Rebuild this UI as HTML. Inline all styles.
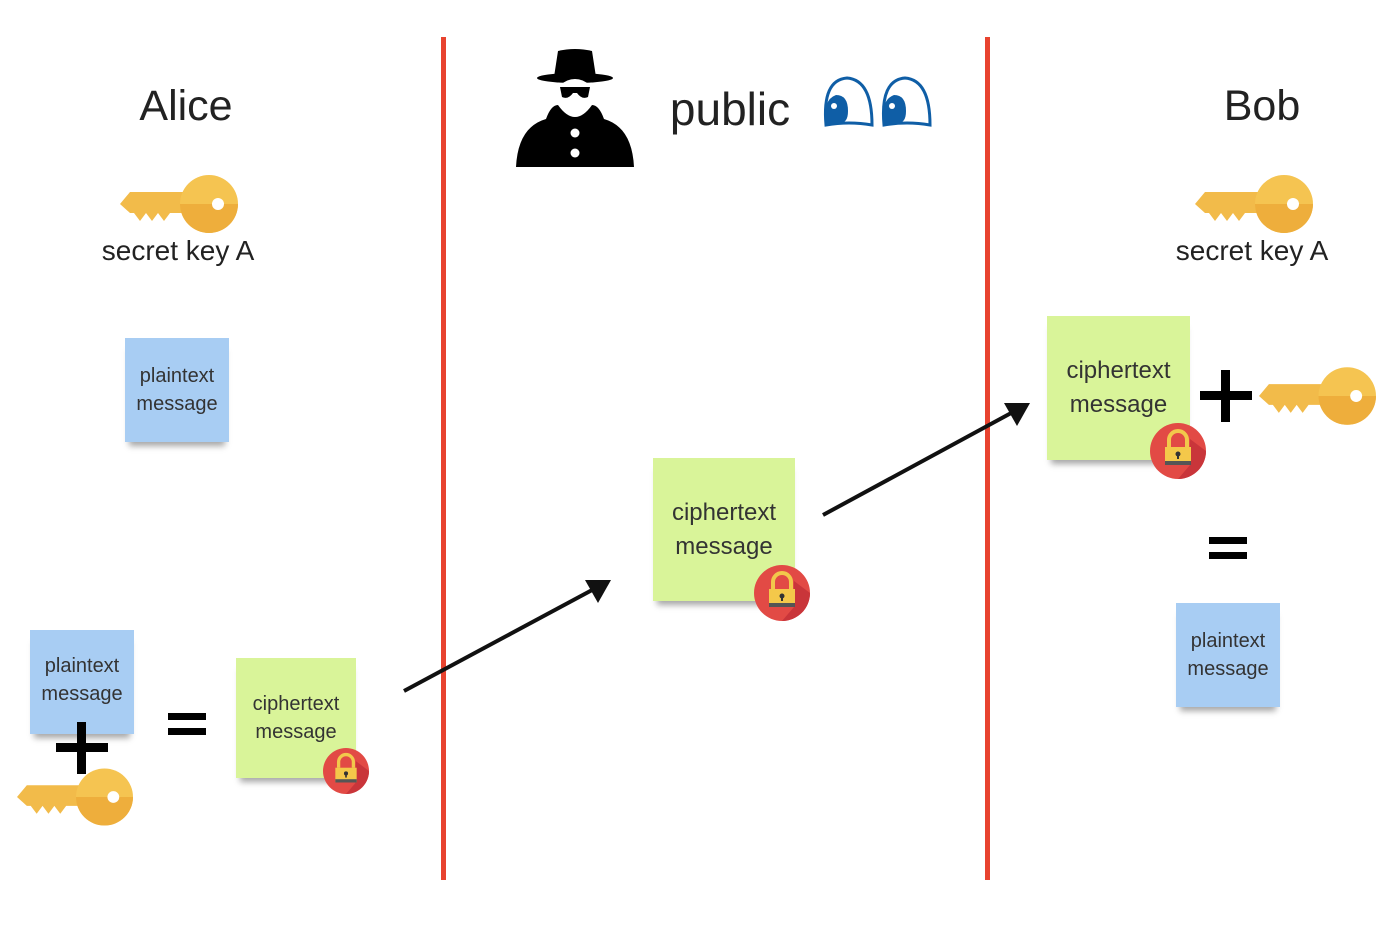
<!DOCTYPE html>
<html><head><meta charset="utf-8"><style>
body{margin:0;width:1400px;height:926px;background:#fff;position:relative;overflow:hidden;font-family:"Liberation Sans",sans-serif;color:#222}
.a{position:absolute}
.t{position:absolute;transform:translateX(-50%);white-space:nowrap}
.note{position:absolute;display:flex;align-items:center;justify-content:center;text-align:center;color:#333;box-shadow:0 8px 6px -4px rgba(0,0,0,.35)}
.blue{background:#a8cdf3;font-size:20px;line-height:28px}
.green{background:#d9f499;font-size:24px;line-height:34px}
</style></head><body>
<svg width="0" height="0" style="position:absolute">
<defs>
<symbol id="key" viewBox="0 0 118 58">
<path d="M0,29 L10,17 L66,17 L66,38 L50,38 L44,46 L38,38 L32,46 L26,38 L20,46 L14,38 L10,38 Z" fill="#f2bb4a"/>
<circle cx="89" cy="29" r="29" fill="#f5c451"/>
<path d="M60,29 A29,29 0 0 0 118,29 L118,29 Z" fill="#eeae3c"/>
<circle cx="98" cy="29" r="6" fill="#fff"/>
</symbol>
<symbol id="lock" viewBox="0 0 56 56">
<circle cx="28" cy="28" r="28" fill="#e24a45"/>
<path d="M28,56 A28,28 0 0 0 56,28 L40,16 L40,42 Z" fill="#c9353a"/>
<path d="M19,24 V17 A9,9 0 0 1 37,17 V24" fill="none" stroke="#f2c84b" stroke-width="4"/>
<rect x="15" y="24" width="26" height="18" fill="#f4c84a"/>
<rect x="15" y="38" width="26" height="4" fill="#555"/>
<circle cx="28" cy="31" r="2.5" fill="#333"/>
<rect x="27" y="31" width="2" height="5" fill="#333"/>
</symbol>
</defs></svg>

<div class="a" style="left:441px;top:37px;width:5px;height:843px;background:#e8432f"></div>
<div class="a" style="left:985px;top:37px;width:5px;height:843px;background:#e8432f"></div>

<div class="t" style="left:186px;top:82px;font-size:43px">Alice</div>
<div class="t" style="left:1262px;top:82px;font-size:43px">Bob</div>
<div class="t" style="left:730px;top:82px;font-size:46px">public</div>

<svg class="a" style="left:120px;top:175px" width="118" height="58"><use href="#key"/></svg>
<div class="t" style="left:178px;top:235px;font-size:28px">secret key A</div>
<svg class="a" style="left:1195px;top:175px" width="118" height="58"><use href="#key"/></svg>
<div class="t" style="left:1252px;top:235px;font-size:28px">secret key A</div>

<svg class="a" style="left:516px;top:47px" width="118" height="120" viewBox="0 0 118 120">
<path d="M38,30 L42,4 Q59,0 76,4 L80,30 Z" fill="#000"/>
<ellipse cx="59" cy="31" rx="38" ry="5" fill="#000"/>
<ellipse cx="59" cy="52" rx="20" ry="20" fill="#fff"/>
<path d="M44,40 H74 L72,50 Q66,53 61,46 H57 Q52,53 46,50 Z" fill="#000"/>
<path d="M0,120 Q2,80 30,72 Q35,58 42,58 Q59,82 76,58 Q83,58 88,72 Q116,80 118,120 Z" fill="#000"/>
<circle cx="59" cy="86" r="4.5" fill="#fff"/>
<circle cx="59" cy="106" r="4.5" fill="#fff"/>
</svg>
<svg class="a" style="left:822px;top:75px" width="112" height="55" viewBox="0 0 112 55">
<path d="M4,50 Q0,5 25,3 Q50,5 50,50 Q27,46 4,50 Z" fill="#fff" stroke="#0f5ea6" stroke-width="3"/>
<path d="M4,50 Q0,25 14,20 Q26,20 26,36 Q26,48 18,48 Z" fill="#0f5ea6"/>
<circle cx="12" cy="31" r="3" fill="#fff"/>
<path d="M62,50 Q58,5 83,3 Q108,5 108,50 Q85,46 62,50 Z" fill="#fff" stroke="#0f5ea6" stroke-width="3"/>
<path d="M62,50 Q58,25 72,20 Q84,20 84,36 Q84,48 76,48 Z" fill="#0f5ea6"/>
<circle cx="70" cy="31" r="3" fill="#fff"/>
</svg>

<div class="note blue" style="left:125px;top:338px;width:104px;height:104px">plaintext<br>message</div>

<div class="note blue" style="left:30px;top:630px;width:104px;height:104px;align-items:flex-start"><div style="margin-top:22px">plaintext<br>message</div></div>
<div class="a" style="left:56px;top:743px;width:52px;height:9px;background:#000"></div>
<div class="a" style="left:77px;top:722px;width:9px;height:52px;background:#000"></div>
<svg class="a" style="left:17px;top:768px" width="116" height="58"><use href="#key"/></svg>
<div class="a" style="left:168px;top:713px;width:38px;height:7px;background:#000"></div>
<div class="a" style="left:168px;top:728px;width:38px;height:7px;background:#000"></div>

<div class="note green" style="left:236px;top:658px;width:120px;height:120px;font-size:20px;line-height:28px">ciphertext<br>message</div>
<svg class="a" style="left:323px;top:748px" width="46" height="46"><use href="#lock"/></svg>

<svg class="a" style="left:0;top:0" width="1400" height="926">
<line x1="404" y1="691" x2="594" y2="589" stroke="#111" stroke-width="4"/>
<path d="M611,580 L585,580 L598,603 Z" fill="#111"/>
<line x1="823" y1="515" x2="1013" y2="412" stroke="#111" stroke-width="4"/>
<path d="M1030,403 L1004,403 L1017,426 Z" fill="#111"/>
</svg>

<div class="note green" style="left:653px;top:458px;width:142px;height:143px">ciphertext<br>message</div>
<svg class="a" style="left:754px;top:565px" width="56" height="56"><use href="#lock"/></svg>

<div class="note green" style="left:1047px;top:316px;width:143px;height:144px">ciphertext<br>message</div>
<svg class="a" style="left:1150px;top:423px" width="56" height="56"><use href="#lock"/></svg>
<div class="a" style="left:1200px;top:391px;width:52px;height:9px;background:#000"></div>
<div class="a" style="left:1221px;top:370px;width:9px;height:52px;background:#000"></div>
<svg class="a" style="left:1259px;top:367px" width="117" height="58"><use href="#key"/></svg>

<div class="a" style="left:1209px;top:537px;width:38px;height:7px;background:#000"></div>
<div class="a" style="left:1209px;top:552px;width:38px;height:7px;background:#000"></div>

<div class="note blue" style="left:1176px;top:603px;width:104px;height:104px">plaintext<br>message</div>
</body></html>
